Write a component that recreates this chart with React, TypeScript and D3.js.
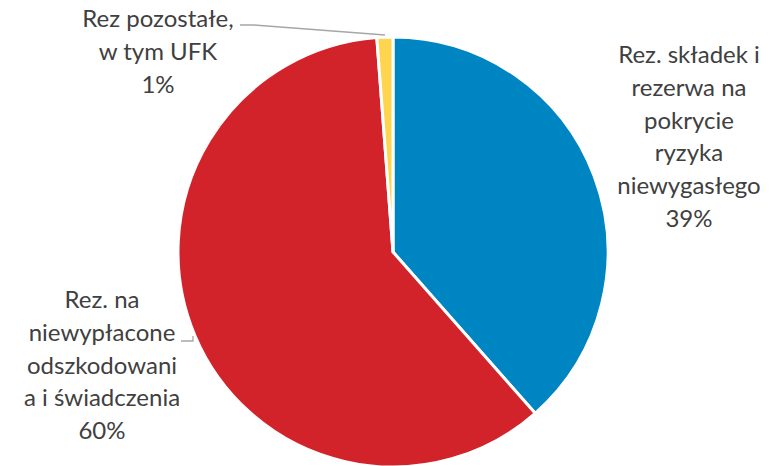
import React from "react";
import * as d3 from "d3";

const categories = [
  "Rez. składek i rezerwa na pokrycie ryzyka niewygasłego",
  "Rez. na niewypłacone odszkodowania i świadczenia",
  "Rez pozostałe, w tym UFK",
];
const values = [38.5, 60.3, 1.2];
const labelLines = [
  ["Rez. składek i", "rezerwa na", "pokrycie", "ryzyka", "niewygasłego"],
  ["Rez. na", "niewypłacone", "odszkodowani", "a i świadczenia"],
  ["Rez pozostałe,", "w tym UFK"],
];
const percentLabels = ["39%", "60%", "1%"];
const colors = ["#0085C3", "#D2232A", "#FFD44F"];

const W = 777;
const H = 466;
const cx = 393;
const cy = 252;
const R = 215;

const labelPos = [
  { x: 689, y: 63 },
  { x: 102, y: 308 },
  { x: 158, y: 27 },
];
const lineH = 32.8;

export default function App() {
  const pie = d3.pie<number>().sort(null).value((d) => d)(values);
  const arc = d3.arc<d3.PieArcDatum<number>>().innerRadius(0).outerRadius(R);
  return (
    <svg width={W} height={H} style={{ position: "absolute", left: 0, top: 0 }}>
      <rect width={W} height={H} fill="#fff" />
      <g transform={`translate(${cx},${cy})`}>
        {pie.map((p, i) => (
          <path key={i} d={arc(p) || ""} fill={colors[i]} stroke="#fff" strokeWidth={3} strokeLinejoin="round">
            <title>{categories[i]}</title>
          </path>
        ))}
      </g>
      <polyline points="240,25 254,25 385,35" fill="none" stroke="#A6A6A6" strokeWidth={1.3} />
      <polyline points="181,341 193,341 193,336" fill="none" stroke="#A6A6A6" strokeWidth={1.3} />
      {labelLines.map((lines, i) => (
        <text key={i} fill="#404040" fontFamily="Lato, Carlito, sans-serif" fontSize={24} textAnchor="middle">
          {[...lines, percentLabels[i]].map((l, j) => (
            <tspan key={j} x={labelPos[i].x} y={labelPos[i].y + j * lineH}>
              {l}
            </tspan>
          ))}
        </text>
      ))}
    </svg>
  );
}
